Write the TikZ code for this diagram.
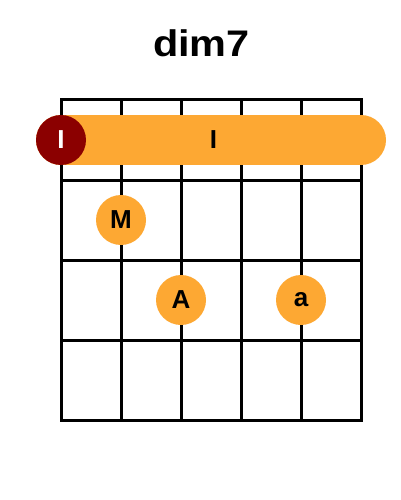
\documentclass[tikz,border=0pt]{standalone}
\usepackage{fontspec}
\setmainfont{Liberation Sans}
\definecolor{fingerorange}{RGB}{253,168,51}
\definecolor{rootred}{RGB}{139,0,0}
\tikzset{
  fret/.style={line width=3pt},
  dotnode/.style={circle, fill=fingerorange, minimum size=50pt, inner sep=0pt, font=\fontsize{26}{26}\selectfont\bfseries},
  rootnode/.style={circle, fill=rootred, text=white, minimum size=50pt, inner sep=0pt, font=\fontsize{26}{26}\selectfont\bfseries}
}
\begin{document}
\begin{tikzpicture}[x=1pt,y=-1pt]
\useasboundingbox (0,0) rectangle (400,500);
\fill [white] (0,0) rectangle (400,500);

\node [anchor=base, inner sep=0pt, font=\fontsize{37}{37}\selectfont\bfseries] (title) at (201.5,57) {\scalebox{1.12}[1]{dim7}};

% strings
\draw [fret] (61,100) -- (61,420);
\draw [fret] (121,100) -- (121,420);
\draw [fret] (181,100) -- (181,420);
\draw [fret] (241,100) -- (241,420);
\draw [fret] (301,100) -- (301,420);
\draw [fret] (361,100) -- (361,420);
% frets
\draw [fret, line cap=rect] (61,100) -- (361,100);
\draw [fret] (61,180) -- (361,180);
\draw [fret] (61,260) -- (361,260);
\draw [fret] (61,340) -- (361,340);
\draw [fret, line cap=rect] (61,420) -- (361,420);

% barre
\coordinate (barreL) at (61,140);
\coordinate (barreR) at (361,140);
\draw [fingerorange, line width=50pt, line cap=round] (barreL) -- (barreR);
\node [font=\fontsize{26}{26}\selectfont\bfseries] (barre) at (213.5,140) {I};
\node [rootnode] (root) at (61,140) {I};

% fingers
\node [dotnode] (middle) at (121,220) {M};
\node [dotnode] (ring) at (181,300) {A};
\node [dotnode] (pinky) at (301,300) {a};

\end{tikzpicture}
\end{document}
